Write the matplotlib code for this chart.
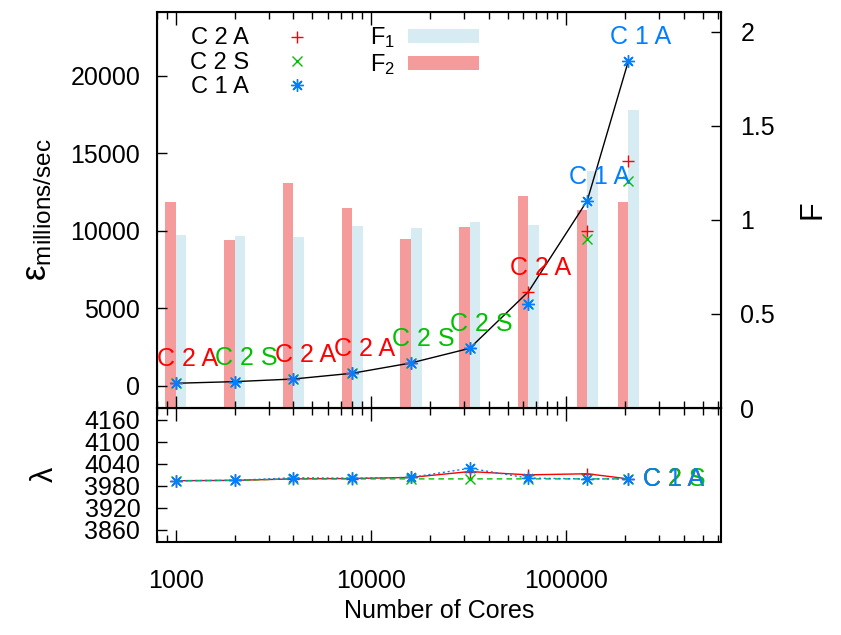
import numpy as np
import matplotlib.pyplot as plt
from matplotlib.lines import Line2D
from matplotlib.patches import Patch
from matplotlib.ticker import LogLocator, NullFormatter, FixedLocator

plt.rcParams['font.family'] = ['Liberation Sans', 'DejaVu Sans']
plt.rcParams['mathtext.fontset'] = 'custom'
plt.rcParams['mathtext.rm'] = 'Liberation Sans'
plt.rcParams['mathtext.it'] = 'Liberation Sans'

# data
cores = [1000, 2000, 4000, 8000, 16000, 32000, 64000, 128000, 208000]

eps_c2a = [155, 255, 430, 800, 1460, 2400, 6065, 9980, 14500]
eps_c2s = [150, 260, 425, 795, 1465, 2410, 5270, 9445, 13200]
eps_c1a = [150, 255, 425, 795, 1460, 2405, 5270, 11935, 20950]
best = ['C 2 A', 'C 2 S', 'C 2 A', 'C 2 A', 'C 2 S', 'C 2 S', 'C 2 A', 'C 1 A', 'C 1 A']

f1 = [0.920, 0.915, 0.910, 0.968, 0.957, 0.989, 0.973, 1.261, 1.585]
f2 = [1.096, 0.894, 1.197, 1.064, 0.899, 0.963, 1.128, 1.053, 1.096]

lam_c2a = [3994, 3995, 3999, 4000, 4003, 4019, 4010, 4013, 3999]
lam_c2s = [3994, 3995, 3999, 3999, 3999, 3999, 3999, 3999, 3999]
lam_c1a = [3994, 3995, 4002, 4001, 4003, 4028, 4001, 3999, 3999]

red = '#ff0000'
green = '#00c000'
blue = '#0080ff'
col = {'C 2 A': red, 'C 2 S': green, 'C 1 A': blue}
c_f1 = '#d6ebf2'
c_f2 = '#f59b9b'
asterisk = (8, 2, 0)
fs = 18

W, H = 841, 635
fig = plt.figure(figsize=(W / 100, H / 100), dpi=100)
L, R = 157 / W, 721 / W
ax = fig.add_axes([L, 1 - 408 / H, R - L, (408 - 12) / H])
axb = fig.add_axes([L, 1 - 541.7 / H, R - L, (541.7 - 408) / H], sharex=ax)
ax2 = ax.twinx()

x = np.array(cores, dtype=float)
w = 0.054  # bar width in decades

# bars on the F axis
ax2.bar(x * 10 ** (-w), f2, width=x - x * 10 ** (-w), align='edge', color=c_f2, zorder=1)
ax2.bar(x, f1, width=x * 10 ** w - x, align='edge', color=c_f1, zorder=1)
ax2.set_ylim(0, 2.106)
ax2.yaxis.set_major_locator(FixedLocator([0, 0.5, 1, 1.5, 2]))
ax2.set_yticklabels(['0', '0.5', '1', '1.5', '2'])
ax2.tick_params(axis='y', direction='in', length=7, width=1, labelsize=fs, pad=14)
ax2.set_ylabel('F', fontsize=22, rotation=90, labelpad=16)

ax.set_zorder(ax2.get_zorder() + 1)
ax.patch.set_visible(False)

best_vals = np.max([eps_c2a, eps_c2s, eps_c1a], axis=0)
ax.plot(x, best_vals, color='black', lw=1, zorder=2)
ax.plot(x, eps_c2a, ls='none', marker='+', ms=9, mew=1, color=red, zorder=3)
ax.plot(x, eps_c2s, ls='none', marker='x', ms=7, mew=1, color=green, zorder=3)
ax.plot(x, eps_c1a, ls='none', marker=asterisk, ms=9, mew=1, color=blue, zorder=4)
for xi, yi, lab in zip(x, best_vals, best):
    ax.annotate(lab, (xi, yi), xytext=(12, 24), textcoords='offset pixels',
                ha='center', va='center', fontsize=fs, color=col[lab], zorder=5)

ax.set_xscale('log')
ax.set_xlim(800, 620000)
ax.set_ylim(-1440, 24100)
ax.set_yticks([0, 5000, 10000, 15000, 20000])
ax.tick_params(axis='y', direction='in', length=7, width=1, labelsize=fs, pad=12, right=False)
ax.tick_params(axis='x', which='both', direction='in', top=True, bottom=True, labelbottom=False)
ax.tick_params(axis='x', which='major', length=9, width=1)
ax.tick_params(axis='x', which='minor', length=5, width=1)
ax.set_ylabel('ε$_{\\mathrm{millions/sec}}$', fontsize=25, labelpad=12)

# legend
handles = [Line2D([], [], ls='none', marker='+', ms=9, mew=1, color=red),
           Line2D([], [], ls='none', marker='x', ms=7, mew=1, color=green),
           Line2D([], [], ls='none', marker=asterisk, ms=9, mew=1, color=blue),
           Patch(facecolor=c_f1, edgecolor='none'),
           Patch(facecolor=c_f2, edgecolor='none')]
labels = ['C 2 A', 'C 2 S', 'C 1 A', r'F$_1$', r'F$_2$']
ax.legend(handles, labels, ncol=2, markerfirst=False, frameon=False, fontsize=17,
          handlelength=3.0, handleheight=0.55, columnspacing=1.6, labelspacing=0.1,
          handletextpad=0.55, loc='upper left', bbox_to_anchor=(0.02, 1.02))

for s in ax.spines.values():
    s.set_linewidth(1.5)
for s in axb.spines.values():
    s.set_linewidth(1.5)

# bottom panel
axb.plot(x, lam_c2a, color=red, lw=1, marker='+', ms=9, mew=1)
axb.plot(x, lam_c2s, color=green, lw=1, ls=(0, (4, 3)), marker='x', ms=7, mew=1)
axb.plot(x, lam_c1a, color=blue, lw=1, ls=(0, (1.5, 2)), marker=asterisk, ms=9, mew=1)
for lab, lam in zip(['C 2 A', 'C 2 S', 'C 1 A'], [lam_c2a, lam_c2s, lam_c1a]):
    axb.annotate(lab, (x[-1], lam[-1]), xytext=(15, 0), textcoords='offset pixels',
                 ha='left', va='center', fontsize=fs, color=col[lab])

axb.set_ylim(3828, 4192)
axb.set_yticks([3860, 3920, 3980, 4040, 4100, 4160])
axb.tick_params(axis='y', direction='in', length=7, width=1, labelsize=fs, pad=12)
axb.tick_params(axis='x', which='both', direction='in', top=True, bottom=True, labelsize=fs, pad=20)
axb.tick_params(axis='x', which='major', length=9, width=1)
axb.tick_params(axis='x', which='minor', length=5, width=1)
axb.xaxis.set_major_locator(LogLocator(base=10))
axb.xaxis.set_minor_locator(LogLocator(base=10, subs=np.arange(2, 10)))
axb.xaxis.set_minor_formatter(NullFormatter())
axb.xaxis.set_major_formatter(plt.FuncFormatter(lambda v, p: '%d' % v))
axb.set_ylabel('λ', fontsize=22, labelpad=18)
axb.set_xlabel('Number of Cores', fontsize=fs, labelpad=4)

fig.savefig('out.png', dpi=100)
